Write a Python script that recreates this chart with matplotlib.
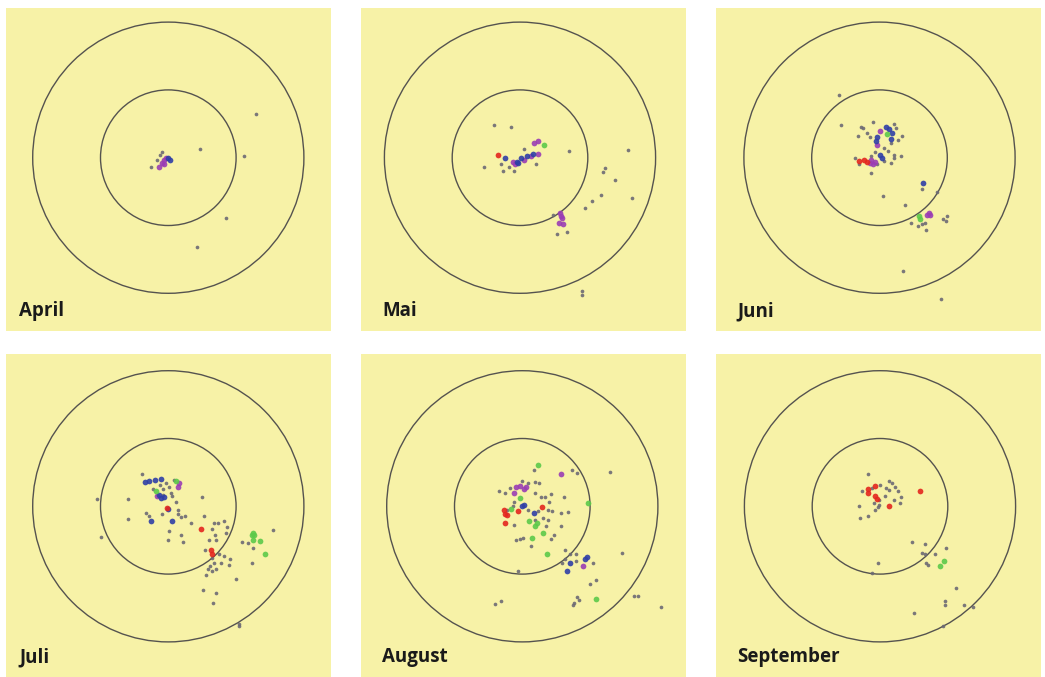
import numpy as np
import matplotlib.pyplot as plt
from matplotlib.patches import Circle

# positions are in units of the inner ring radius, ring centre at (0, 0)
months = ["April", "Mai", "Juni", "Juli", "August", "September"]

# --- April ------------------------------------------------------------------
apr_gray_x = [1.29, 0.47, 1.12, 0.85, 0.43, -0.10, -0.17, -0.25, -0.12]
apr_gray_y = [0.64, 0.13, 0.02, -0.89, -1.32, 0.09, -0.03, -0.14, 0.04]
apr_purple_x = [-0.13, -0.09, -0.06, -0.03, -0.07]
apr_purple_y = [-0.13, -0.08, -0.03, 0.00, -0.10]
apr_blue_x = [0.03, 0.00]
apr_blue_y = [-0.04, -0.01]

# --- Mai --------------------------------------------------------------------
mai_gray_x = [-0.39, -0.13, 0.72, 1.60, -0.53, -0.25, -0.09, -0.28, 0.24, 0.06,
              1.26, 1.23, 1.40, 1.19, 1.06, 0.96, 1.65, 0.48, 0.55, 0.70,
              0.92, 0.92, -0.16]
mai_gray_y = [0.48, 0.45, 0.10, 0.11, -0.14, -0.19, -0.19, -0.09, -0.10, 0.13,
              -0.15, -0.21, -0.33, -0.55, -0.64, -0.74, -0.60, -0.85, -1.12, -1.10,
              -1.96, -2.02, -0.13]
mai_red_x = [-0.32]
mai_red_y = [0.04]
mai_green_x = [0.35]
mai_green_y = [0.18]
mai_blue_x = [-0.22, -0.04, 0.01, 0.11, 0.19, -0.03]
mai_blue_y = [-0.01, -0.06, 0.00, 0.02, 0.05, -0.08]
mai_purple_x = [0.21, 0.27, -0.11, 0.06, 0.16, 0.27, -0.07, 0.59, 0.62, 0.57, 0.64, 0.60]
mai_purple_y = [0.22, 0.24, -0.06, -0.03, 0.02, 0.05, -0.09, -0.81, -0.89, -0.96, -0.98, -0.86]

# --- Juni -------------------------------------------------------------------
jun_gray_x = [-0.60, -0.57, -0.28, -0.24, -0.10, -0.31, -0.18, -0.14, 0.22, 0.24,
              0.33, 0.28, 0.17, 0.07, 0.13, -0.06, 0.21, 0.32, 0.21, -0.36,
              -0.30, 0.06, 0.17, -0.12, -0.03, 0.05, 0.37, 0.63, 0.46, 0.57,
              0.67, 0.68, 0.62, 0.93, 0.99, 0.98, 0.85, 0.34, 0.91, -0.12]
jun_gray_y = [0.92, 0.48, 0.46, 0.44, 0.53, 0.32, 0.36, 0.31, 0.50, 0.44,
              0.32, 0.26, 0.22, 0.14, 0.10, 0.09, 0.04, 0.03, 0.00, 0.00,
              -0.09, -0.05, -0.08, -0.23, -0.10, -0.56, -0.70, -0.46, -0.97, -1.01,
              -0.96, -1.06, -0.98, -0.90, -0.86, -0.94, -0.51, -1.67, -2.08, 0.02]
jun_blue_x = [0.09, 0.14, -0.04, -0.05, 0.17, 0.19, 0.00, 0.03, 0.64]
jun_blue_y = [0.46, 0.43, 0.31, 0.24, 0.27, 0.36, 0.04, 0.00, -0.38]
jun_green_x = [0.11, 0.58, 0.60]
jun_green_y = [0.35, -0.86, -0.91]
jun_purple_x = [0.00, -0.03, 0.73, 0.75, 0.70, -0.14, -0.10, -0.06, -0.13]
jun_purple_y = [0.40, 0.19, -0.81, -0.84, -0.85, -0.08, -0.10, -0.06, -0.03]
jun_red_x = [-0.30, -0.23, -0.18]
jun_red_y = [-0.05, -0.03, -0.06]

# --- Juli -------------------------------------------------------------------
jul_gray_x = [-1.05, -0.99, -0.60, -0.60, -0.39, -0.33, -0.29, -0.10, -0.12, -0.08,
              -0.03, 0.01, 0.04, 0.12, 0.15, 0.14, 0.19, 0.24, 0.01, 0.00,
              0.19, 0.21, 0.34, 0.49, 0.52, 0.68, 0.73, 0.82, 0.87, 0.65,
              0.69, 0.85, 0.71, 0.60, 0.54, 0.64, 0.75, 0.82, 0.91, 0.89,
              0.77, 0.68, 0.61, 0.58, 0.64, 0.55, 0.70, 1.00, 0.51, 0.71,
              0.66, 1.09, 1.17, 1.25, 1.24, 1.54, 1.04, 1.04, -0.08, 0.06,
              0.09, -0.23]
jul_gray_y = [0.11, -0.46, 0.11, -0.19, 0.47, -0.10, -0.15, -0.11, 0.32, 0.25,
              0.34, 0.29, 0.20, 0.07, -0.06, -0.12, -0.16, -0.15, -0.37, -0.50,
              -0.42, -0.52, -0.24, 0.14, -0.15, -0.25, -0.24, -0.22, -0.30, -0.34,
              -0.42, -0.39, -0.49, -0.49, -0.64, -0.76, -0.71, -0.74, -0.77, -0.86,
              -0.84, -0.84, -0.88, -0.93, -0.96, -1.02, -0.92, -1.07, -1.24, -1.28,
              -1.43, -0.53, -0.54, -0.61, -0.84, -0.35, -1.74, -1.76, 0.16, 0.15,
              0.39, 0.25]
jul_blue_x = [-0.34, -0.29, -0.20, -0.11, -0.13, -0.06, -0.11, -0.26, 0.05, -0.01]
jul_blue_y = [0.36, 0.37, 0.39, 0.40, 0.17, 0.14, 0.12, -0.21, -0.21, -0.04]
jul_green_x = [-0.18, 0.12, 1.25, 1.27, 1.25, 1.35, 1.43, 1.24]
jul_green_y = [0.23, 0.37, -0.40, -0.42, -0.50, -0.51, -0.71, -0.43]
jul_purple_x = [0.16, 0.15, -0.16]
jul_purple_y = [0.34, 0.28, 0.15]
jul_red_x = [-0.02, 0.48, 0.63, 0.65]
jul_red_y = [-0.02, -0.33, -0.65, -0.70]

# --- August -----------------------------------------------------------------
aug_gray_x = [0.17, 0.73, 0.80, 1.30, 0.00, 0.09, 0.18, 0.25, -0.35, -0.26,
              -0.18, 0.18, 0.27, 0.34, 0.42, 0.61, 0.39, -0.14, -0.22, 0.08,
              0.23, 0.38, 0.44, 0.57, 0.67, 0.30, 0.38, -0.12, 0.18, 0.35,
              0.57, -0.09, -0.03, 0.01, 0.13, 0.42, 0.47, 0.63, 0.71, 0.79,
              0.59, 0.63, 0.79, 1.04, 1.47, -0.07, 1.00, 1.09, 0.80, 0.84,
              0.76, 0.75, -0.41, -0.31, 1.65, 1.70, 2.04, -0.12]
aug_gray_y = [0.53, 0.54, 0.49, 0.51, 0.38, 0.34, 0.36, 0.34, 0.22, 0.20,
              0.27, 0.20, 0.14, 0.14, 0.18, 0.14, 0.07, 0.00, -0.05, -0.05,
              -0.07, -0.06, -0.07, -0.10, -0.09, -0.17, -0.20, -0.28, -0.20, -0.29,
              -0.29, -0.49, -0.48, -0.47, -0.58, -0.48, -0.43, -0.64, -0.71, -0.70,
              -0.84, -0.78, -0.81, -0.84, -0.69, -0.96, -1.15, -1.09, -1.34, -1.38,
              -1.43, -1.46, -1.44, -1.40, -1.32, -1.32, -1.48, 0.07]
aug_purple_x = [-0.09, -0.04, 0.05, 0.02, -0.12, 0.57, 0.90]
aug_purple_y = [0.28, 0.30, 0.28, 0.25, 0.20, 0.47, -0.88]
aug_blue_x = [0.00, 0.02, 0.17, 0.70, 0.66, 0.95, 0.93]
aug_blue_y = [0.00, 0.02, -0.10, -0.84, -0.96, -0.75, -0.77]
aug_green_x = [0.23, -0.03, 0.97, 0.10, 0.18, 0.22, 0.30, 0.14, 0.37, 1.09, -0.16]
aug_green_y = [0.61, 0.12, 0.05, -0.22, -0.29, -0.25, -0.39, -0.47, -0.70, -1.36, -0.04]
aug_red_x = [-0.27, -0.25, -0.22, -0.25, -0.06, 0.29]
aug_red_y = [-0.06, -0.12, -0.13, -0.25, -0.07, -0.01]

# --- September --------------------------------------------------------------
sep_gray_x = [-0.18, -0.26, -0.12, 0.00, 0.13, 0.18, 0.09, 0.14, 0.22, 0.26,
              0.31, 0.20, 0.30, 0.07, -0.02, -0.31, -0.09, -0.01, -0.08, -0.03,
              -0.17, -0.30, 0.47, 0.66, 0.97, 0.62, 0.66, 0.81, 0.68, 0.71,
              -0.03, -0.12, 1.12, 0.96, 0.96, 1.24, 1.37, 0.50, 0.93]
sep_gray_y = [0.48, 0.23, 0.27, 0.32, 0.37, 0.35, 0.27, 0.24, 0.29, 0.22,
              0.14, 0.10, 0.05, 0.15, 0.10, 0.01, 0.05, 0.02, -0.05, -0.01,
              -0.14, -0.17, -0.53, -0.55, -0.62, -0.69, -0.71, -0.70, -0.83, -0.87,
              -0.84, -0.99, -1.21, -1.39, -1.45, -1.45, -1.48, -1.58, -1.77]
sep_red_x = [-0.18, -0.18, -0.08, -0.08, -0.05, 0.13, 0.59]
sep_red_y = [0.25, 0.19, 0.30, 0.15, 0.11, 0.00, 0.22]
sep_green_x = [0.94, 0.89]
sep_green_y = [-0.80, -0.88]

GRAY, BLUE, PURPLE, RED, GREEN = "#6c6a74", "#2f3fa6", "#9a3db4", "#e3261e", "#5cc94a"

panels = [
    [(apr_gray_x, apr_gray_y, GRAY), (apr_purple_x, apr_purple_y, PURPLE),
     (apr_blue_x, apr_blue_y, BLUE)],
    [(mai_gray_x, mai_gray_y, GRAY), (mai_purple_x, mai_purple_y, PURPLE),
     (mai_blue_x, mai_blue_y, BLUE), (mai_red_x, mai_red_y, RED),
     (mai_green_x, mai_green_y, GREEN)],
    [(jun_gray_x, jun_gray_y, GRAY), (jun_purple_x, jun_purple_y, PURPLE),
     (jun_blue_x, jun_blue_y, BLUE), (jun_red_x, jun_red_y, RED),
     (jun_green_x, jun_green_y, GREEN)],
    [(jul_gray_x, jul_gray_y, GRAY), (jul_purple_x, jul_purple_y, PURPLE),
     (jul_blue_x, jul_blue_y, BLUE), (jul_red_x, jul_red_y, RED),
     (jul_green_x, jul_green_y, GREEN)],
    [(aug_gray_x, aug_gray_y, GRAY), (aug_purple_x, aug_purple_y, PURPLE),
     (aug_blue_x, aug_blue_y, BLUE), (aug_red_x, aug_red_y, RED),
     (aug_green_x, aug_green_y, GREEN)],
    [(sep_gray_x, sep_gray_y, GRAY), (sep_red_x, sep_red_y, RED),
     (sep_green_x, sep_green_y, GREEN)],
]

W, H = 1045, 677
fig = plt.figure(figsize=(W / 100, H / 100), dpi=100)
fig.patch.set_facecolor("white")

UNIT = 67.8                      # px per inner-ring radius
col_left = [6, 361, 716]         # px
row_top = [8, 354]               # px
PW, PH = 325, 323                # panel size, px
# ring centre inside each panel (from left / top), px
centre_x = [162.3, 159.0, 163.5, 162.3, 161.3, 164.0]
centre_y = [149.7, 149.7, 149.7, 152.3, 152.3, 152.3]
label_x = [13, 21, 21]           # label left edge inside a panel, px

for i, (month, layers) in enumerate(zip(months, panels)):
    r, c = divmod(i, 3)
    left, top = col_left[c], row_top[r]
    cx, cy = centre_x[i], centre_y[i]
    ax = fig.add_axes([left / W, 1 - (top + PH) / H, PW / W, PH / H])
    ax.set_facecolor("#f7f2a7")
    ax.set_xlim(-cx / UNIT, (PW - cx) / UNIT)
    ax.set_ylim(-(PH - cy) / UNIT, cy / UNIT)
    for rad in (1, 2):
        ax.add_patch(Circle((0, 0), rad, fill=False, ec="#55534f", lw=1.0))
    for xs, ys, col in layers:
        size = 7 if col == GRAY else 17
        ax.scatter(xs, ys, s=size, color=col, lw=0, alpha=0.9, zorder=3)
    ax.text(label_x[c] / PW, 0.045, month, transform=ax.transAxes, fontsize=13.5,
            fontweight="bold", family=["Open Sans", "DejaVu Sans"], color="#1a1a1a")
    ax.set_xticks([])
    ax.set_yticks([])
    for s in ax.spines.values():
        s.set_visible(False)

fig.savefig("out.png", dpi=100)
